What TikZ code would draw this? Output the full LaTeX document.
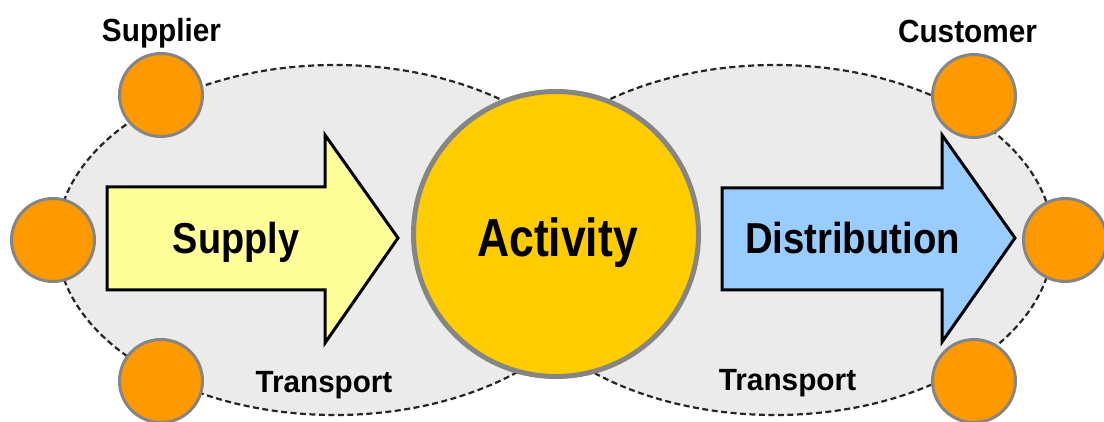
\documentclass[tikz,border=0pt]{standalone}
\usepackage{fontspec}
\usepackage{graphicx}
\setmainfont{Liberation Sans}
\definecolor{zone}{HTML}{EBEBEB}
\definecolor{orangec}{HTML}{FF9900}
\definecolor{actc}{HTML}{FFCC00}
\definecolor{supc}{HTML}{FFFF99}
\definecolor{disc}{HTML}{99CCFF}
\definecolor{rimc}{HTML}{858585}
\newcommand{\lbl}[3]{\scalebox{#2}[1]{\fontsize{#1}{#1}\selectfont\bfseries #3}}
\begin{document}
\begin{tikzpicture}[x=1pt,y=-1pt,
  zonestyle/.style={fill=zone,draw=black!85,line width=2.2pt,dash pattern=on 6pt off 3.5pt},
  party/.style={circle,fill=orangec,draw=rimc,line width=3pt,minimum size=83pt,inner sep=0pt},
  bigarrow/.style={draw=black,line width=3pt,line join=miter},
  lab/.style={anchor=base,inner sep=0pt,text=black}]
\useasboundingbox (0,0) rectangle (1104,422);
% zones
\draw[zonestyle] (335,240) ellipse [x radius=278, y radius=175];
\draw[zonestyle] (775,240) ellipse [x radius=278, y radius=175];
% arrows
\draw[bigarrow,fill=supc] (107,187) -- (325,187) -- (325,135) -- (398,238) -- (325,343) -- (325,290) -- (107,290) -- cycle;
\draw[bigarrow,fill=disc] (722,188) -- (942,188) -- (942,135) -- (1015,238) -- (942,342) -- (942,290) -- (722,290) -- cycle;
% activity
\node[circle,fill=actc,draw=rimc,line width=5pt,minimum size=285pt,inner sep=0pt] (act) at (556,234) {};
% parties
\node[party] (sup1) at (161,95) {};
\node[party] (sup2) at (53,240) {};
\node[party] (sup3) at (161,381) {};
\node[party] (cus1) at (974,96) {};
\node[party] (cus2) at (1065,240) {};
\node[party] (cus3) at (974,381) {};
% labels
\node[lab] (tsupplier) at (161.5,42) {\lbl{32}{0.93}{Supplier}};
\node[lab] (tcustomer) at (967.5,43) {\lbl{32}{0.93}{Customer}};
\node[lab] (ttransl) at (324,392) {\lbl{30.7}{0.965}{Transport}};
\node[lab] (ttransr) at (787.5,390) {\lbl{30.7}{0.97}{Transport}};
\node[lab] (tsupply) at (236,254) {\lbl{43.3}{0.875}{Supply}};
\node[lab] (tact) at (557.5,257) {\lbl{53.6}{0.83}{Activity}};
\node[lab] (tdist) at (852.5,254) {\lbl{43.3}{0.885}{Distribution}};
\end{tikzpicture}
\end{document}
